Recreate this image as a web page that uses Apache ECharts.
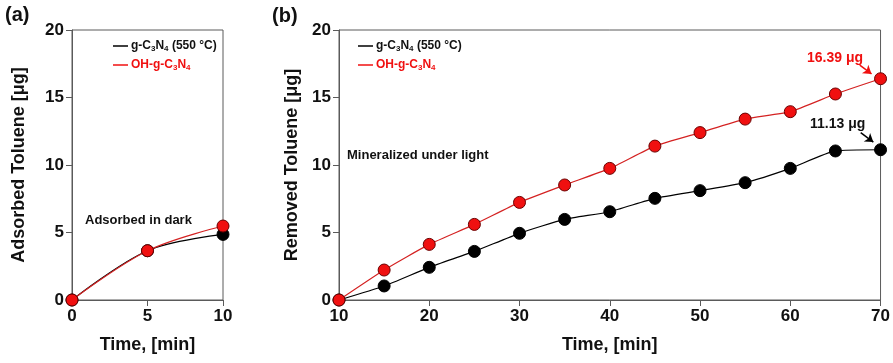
<!DOCTYPE html>
<html>
<head>
<meta charset="utf-8">
<script src="https://cdn.jsdelivr.net/npm/echarts@6/dist/echarts.min.js"></script>
<style>
  html, body { margin: 0; padding: 0; background: #fff; }
  #chart { width: 893px; height: 363px; }
</style>
</head>
<body>
<div id="chart"></div>
<script>
// panel (a): adsorption in dark
const timeA = [0, 5, 10];
const adsBare = [0, 3.65, 4.86];
const adsOH = [0, 3.65, 5.48];

// panel (b): mineralized under light
const timeB = [10, 15, 20, 25, 30, 35, 40, 45, 50, 55, 60, 65, 70];
const remBare = [0, 1.04, 2.42, 3.6, 4.94, 5.97, 6.54, 7.53, 8.1, 8.69, 9.75, 11.04, 11.13];
const remOH = [0, 2.22, 4.12, 5.6, 7.23, 8.52, 9.75, 11.4, 12.4, 13.4, 13.95, 15.26, 16.39];

const BARE = 'g-C3N4 (550 °C)';
const OH = 'OH-g-C3N4';
const RED = '#f01010';
const RED_LINE = '#d42222';
const FONT = 'Arial, "Liberation Sans", sans-serif';

const zip = (xs, ys) => xs.map((x, i) => [x, ys[i]]);

function legendFmt(name) {
  if (name === BARE) return '{k|g-C}{ks|3}{k|N}{ks|4}{k| (550 °C)}';
  return '{r|OH-g-C}{rs|3}{r|N}{rs|4}';
}
const legendRich = {
  k: { color: '#111', fontSize: 12, fontWeight: 'bold', fontFamily: FONT },
  ks: { color: '#111', fontSize: 8, fontWeight: 'bold', fontFamily: FONT, verticalAlign: 'bottom', padding: [6, 0, 0, 0] },
  r: { color: RED, fontSize: 12, fontWeight: 'bold', fontFamily: FONT },
  rs: { color: RED, fontSize: 8, fontWeight: 'bold', fontFamily: FONT, verticalAlign: 'bottom', padding: [6, 0, 0, 0] }
};

function makeLegend(left) {
  return {
    left: left, top: 35, orient: 'vertical', itemGap: 6,
    icon: 'rect', itemWidth: 15, itemHeight: 1.5,
    itemStyle: { borderWidth: 0 },
    data: [BARE, OH],
    formatter: legendFmt,
    textStyle: { rich: legendRich, padding: [0, 0, 0, -2] },
    selectedMode: false
  };
}

const axisCommon = {
  axisLine: { lineStyle: { color: '#5a5a5a', width: 1 } },
  axisTick: { length: 6, lineStyle: { color: '#5a5a5a' } },
  axisLabel: { color: '#111', fontSize: 17, fontWeight: 'bold', fontFamily: FONT },
  splitLine: { show: false },
  nameTextStyle: { color: '#111', fontSize: 18, fontWeight: 'bold', fontFamily: FONT }
};

function seriesPair(idx, xs, bare, oh, smooth, extra) {
  const base = {
    type: 'line', xAxisIndex: idx, yAxisIndex: idx,
    smooth: smooth,
    symbol: 'circle', symbolSize: 12, animation: false
  };
  return [
    Object.assign({}, base, {
      name: BARE, data: zip(xs, bare), z: 2,
      lineStyle: { color: '#000', width: 1.2 },
      itemStyle: { color: '#000', borderColor: '#000', borderWidth: 1 }
    }, extra ? extra.bare : {}),
    Object.assign({}, base, {
      name: OH, data: zip(xs, oh), z: 3,
      lineStyle: { color: RED_LINE, width: 1.2 },
      itemStyle: { color: RED, borderColor: '#6a0000', borderWidth: 1 }
    }, extra ? extra.oh : {})
  ];
}

const arrow = (from, to, color) => ({
  silent: true, symbol: ['none', 'arrow'], symbolSize: 8,
  label: { show: false },
  lineStyle: { color: color, width: 1.5, type: 'solid' },
  data: [[{ coord: from }, { coord: to }]]
});

const chart = echarts.init(document.getElementById('chart'), null, { renderer: 'canvas' });
chart.setOption({
  backgroundColor: '#fff',
  animation: false,
  textStyle: { fontFamily: FONT },
  grid: [
    { left: 72, top: 30, width: 151, height: 270, show: true, borderColor: '#5a5a5a', borderWidth: 1 },
    { left: 339, top: 30, width: 543, height: 270, show: true, borderColor: '#5a5a5a', borderWidth: 1 }
  ],
  legend: [makeLegend(108), makeLegend(353)],
  xAxis: [
    Object.assign({}, axisCommon, {
      gridIndex: 0, type: 'value', min: 0, max: 10, interval: 5,
      name: 'Time, [min]', nameLocation: 'middle', nameGap: 36
    }),
    Object.assign({}, axisCommon, {
      gridIndex: 1, type: 'value', min: 10, max: 70, interval: 10,
      name: 'Time, [min]', nameLocation: 'middle', nameGap: 36
    })
  ],
  yAxis: [
    Object.assign({}, axisCommon, {
      gridIndex: 0, type: 'value', min: 0, max: 20, interval: 5,
      name: 'Adsorbed Toluene [μg]', nameLocation: 'middle', nameGap: 44
    }),
    Object.assign({}, axisCommon, {
      gridIndex: 1, type: 'value', min: 0, max: 20, interval: 5,
      name: 'Removed Toluene [μg]', nameLocation: 'middle', nameGap: 37
    })
  ],
  series: [].concat(
    seriesPair(0, timeA, adsBare, adsOH, 0.35),
    seriesPair(1, timeB, remBare, remOH, 0.18, {
      bare: { markLine: arrow([67.8, 12.4], [69.2, 11.7], '#000') },
      oh: { markLine: arrow([67.7, 17.4], [69.0, 16.75], RED) }
    })
  ),
  graphic: [
    { type: 'text', left: 5, top: 5, style: { text: '(a)', fontSize: 20, fontWeight: 'bold', fontFamily: FONT, fill: '#111' } },
    { type: 'text', left: 272, top: 6, style: { text: '(b)', fontSize: 20, fontWeight: 'bold', fontFamily: FONT, fill: '#111' } },
    { type: 'text', left: 85, top: 214, style: { text: 'Adsorbed in dark', fontSize: 13, fontWeight: 'bold', fontFamily: FONT, fill: '#111' } },
    { type: 'text', left: 347, top: 149, style: { text: 'Mineralized under light', fontSize: 13, fontWeight: 'bold', fontFamily: FONT, fill: '#111' } },
    { type: 'text', left: 807, top: 51, style: { text: '16.39 μg', fontSize: 14, fontWeight: 'bold', fontFamily: FONT, fill: RED } },
    { type: 'text', left: 810, top: 117, style: { text: '11.13 μg', fontSize: 14, fontWeight: 'bold', fontFamily: FONT, fill: '#111' } }
  ]
});
</script>
</body>
</html>
